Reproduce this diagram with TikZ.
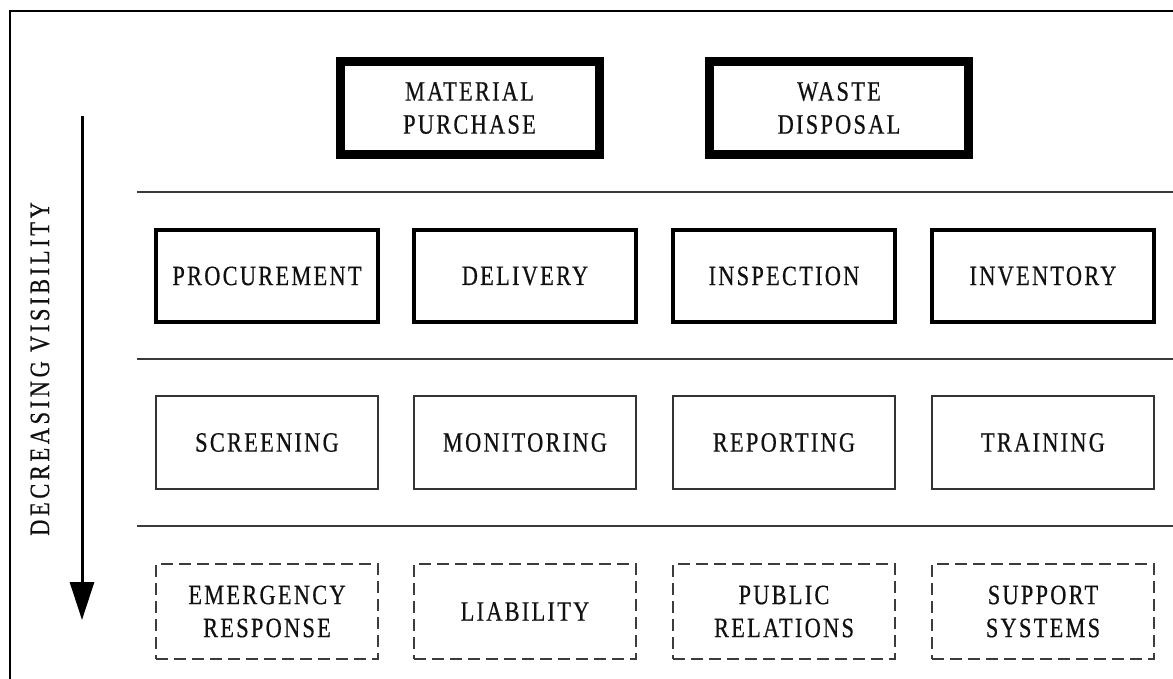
\documentclass[tikz,border=0pt]{standalone}
\usepackage{fontspec}
\usetikzlibrary{arrows.meta}
\newfontfamily\lblfont[FakeStretch=0.8,LetterSpace=8,FakeBold=0.5]{Liberation Serif}
\definecolor{ink}{HTML}{111111}
\definecolor{boxgray}{HTML}{333333}
\definecolor{rulegray}{HTML}{3A3A3A}
\definecolor{dashgray}{HTML}{3C3C3C}
\begin{document}
\begin{tikzpicture}[x=1pt,y=-1pt,
  lbl/.style={font=\lblfont\fontsize{28}{33}\selectfont, text=ink, align=center, inner sep=0pt},
  topbox/.style={lbl, draw=black, line width=9pt, minimum width=259pt, minimum height=93pt},
  thickbox/.style={lbl, draw=black, line width=4pt, minimum width=222pt, minimum height=92pt},
  thinbox/.style={lbl, draw=boxgray, line width=1.6pt, minimum width=222pt, minimum height=93pt},
  dashbox/.style={lbl, draw=dashgray, line width=2.4pt, dash pattern=on 12pt off 6pt, minimum width=222pt, minimum height=95pt},
  sepline/.style={draw=rulegray, line width=2pt},
  framebar/.style={draw=black, line width=2pt}]
\useasboundingbox (0,0) rectangle (1173,679);
\fill[white] (0,0) rectangle (1173,679);
% frame
\coordinate (fbl) at (10,679);
\coordinate (ftl) at (10,11);
\coordinate (ftr) at (1173,11);
\draw[framebar] (fbl) -- (ftl) -- (ftr);
% separator rules
\coordinate (r1a) at (137,192); \coordinate (r1b) at (1173,192);
\coordinate (r2a) at (137,359); \coordinate (r2b) at (1173,359);
\coordinate (r3a) at (137,526); \coordinate (r3b) at (1173,526);
\draw[sepline] (r1a) -- (r1b);
\draw[sepline] (r2a) -- (r2b);
\draw[sepline] (r3a) -- (r3b);
% top row
\node[topbox] (mat) at (469.5,108) {MATERIAL\\PURCHASE};
\node[topbox] (waste) at (839,108) {WASTE\\DISPOSAL};
% row 2
\node[thickbox] (proc) at (267,276) {PROCUREMENT};
\node[thickbox] (deliv) at (525,276) {DELIVERY};
\node[thickbox] (insp) at (784,276) {INSPECTION};
\node[thickbox] (inv) at (1043,276) {INVENTORY};
% row 3
\node[thinbox] (scr) at (267,442.5) {SCREENING};
\node[thinbox] (mon) at (525,442.5) {MONITORING};
\node[thinbox] (rep) at (784,442.5) {REPORTING};
\node[thinbox] (trn) at (1043,442.5) {TRAINING};
% row 4
\node[dashbox] (emg) at (267,611.5) {EMERGENCY\\RESPONSE};
\node[dashbox] (liab) at (525,611.5) {LIABILITY};
\node[dashbox] (pub) at (784,611.5) {PUBLIC\\RELATIONS};
\node[dashbox] (sup) at (1043,611.5) {SUPPORT\\SYSTEMS};
% arrow and label
\coordinate (astart) at (82,116);
\coordinate (aend) at (82,620);
\draw[line width=3pt, black, -{Triangle[width=24pt,length=38pt]}] (astart) -- (aend);
\node[lbl, rotate=90, font=\lblfont\fontsize{28}{33}\selectfont\addfontfeature{LetterSpace=13}] (vis) at (40,369) {DECREASING VISIBILITY};
\end{tikzpicture}
\end{document}
